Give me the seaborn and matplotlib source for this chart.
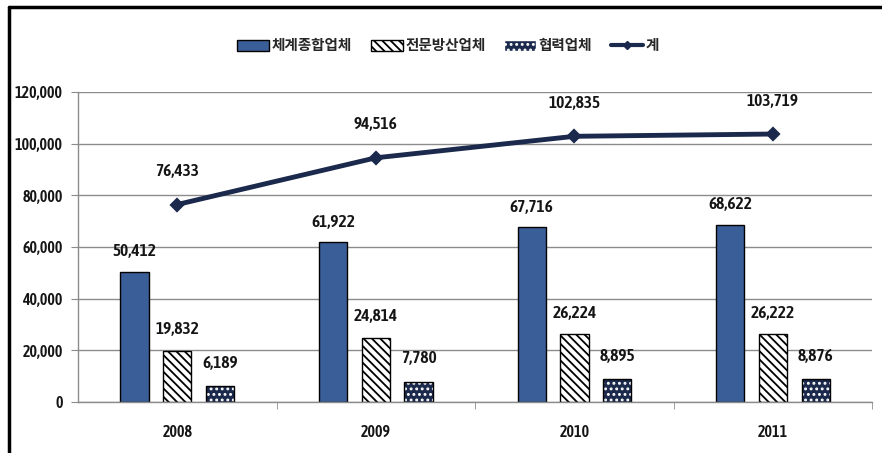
import matplotlib
matplotlib.use('Agg')
import matplotlib.pyplot as plt
from matplotlib.patches import Patch, Rectangle
from matplotlib.lines import Line2D
from matplotlib.ticker import FuncFormatter, FixedLocator
import seaborn as sns
import pandas as pd

# data
years = ['2008', '2009', '2010', '2011']
series = ['체계종합업체', '전문방산업체', '협력업체']
system_firms = [50412, 61922, 67716, 68622]
defense_firms = [19832, 24814, 26224, 26222]
partner_firms = [6189, 7780, 8895, 8876]
total = [76433, 94516, 102835, 103719]

blue = '#3a5e98'
navy = '#1b2a4c'
num_font = ['Asap Condensed', 'Barlow Condensed', 'DejaVu Sans']

sns.set_style('white')
plt.rcParams['font.family'] = ['Noto Sans CJK KR', 'DejaVu Sans']
plt.rcParams['hatch.linewidth'] = 1.3

df = pd.DataFrame({
    'year': years * 3,
    'series': [s for s in series for _ in years],
    'value': system_firms + defense_firms + partner_firms,
})

fig = plt.figure(figsize=(8.82, 4.53), dpi=100)
ax = fig.add_axes([0.0884, 0.1126, 0.9006, 0.6844])

sns.barplot(data=df, x='year', y='value', hue='series', hue_order=series,
            width=0.645, gap=0.34, ax=ax, legend=False)

# style the three bar series
for p in ax.containers[0]:
    p.set_facecolor(blue)
    p.set_edgecolor('black')
    p.set_linewidth(1)
for p in ax.containers[1]:
    p.set_facecolor('white')
    p.set_edgecolor('black')
    p.set_hatch('\\\\\\\\')
    p.set_linewidth(1)
for p in ax.containers[2]:
    p.set_facecolor(navy)
    p.set_edgecolor('white')
    p.set_hatch('...')
    p.set_linewidth(0)
    ax.add_patch(Rectangle(p.get_xy(), p.get_width(), p.get_height(),
                           fill=False, edgecolor='black', linewidth=1, zorder=p.get_zorder() + 0.1))

# total line
sns.pointplot(x=years, y=total, color=navy, markers='D', linewidth=3.5,
              markersize=5, ax=ax)

# value labels
for cont, vals, off in zip(ax.containers[:3], [system_firms, defense_firms, partner_firms], [20, 21, 23]):
    for p, v in zip(cont, vals):
        ax.annotate(f'{v:,}', (p.get_x() + p.get_width() / 2, v), xytext=(0, off),
                    textcoords='offset pixels', ha='center', va='center',
                    fontsize=12.5, fontweight='semibold', family=num_font, color='#151515')
for i, v in enumerate(total):
    ax.annotate(f'{v:,}', (i, v), xytext=(0, 33), textcoords='offset pixels',
                ha='center', va='center', fontsize=12.5, fontweight='semibold',
                family=num_font, color='#151515')

ax.set_ylim(0, 120000)
ax.set_xlim(-0.5, 3.5)
ax.set_yticks(range(0, 120001, 20000))
ax.yaxis.set_major_formatter(FuncFormatter(lambda v, _: f'{int(v):,}'))
ax.grid(axis='y', color='#8c8c8c', linewidth=1)
ax.set_axisbelow(True)
ax.set_xlabel('')
ax.set_ylabel('')

for s in ['top', 'right']:
    ax.spines[s].set_visible(False)
for s in ['left', 'bottom']:
    ax.spines[s].set_color('#8c8c8c')
    ax.spines[s].set_linewidth(1)

ax.tick_params(axis='y', length=5, color='#8c8c8c', left=True, pad=6)
ax.tick_params(axis='x', which='major', length=0, pad=16)
ax.xaxis.set_minor_locator(FixedLocator([0.5, 1.5, 2.5, 3.5]))
ax.tick_params(axis='x', which='minor', length=5, color='#8c8c8c', bottom=True)
for lab in ax.get_yticklabels() + ax.get_xticklabels():
    lab.set_family(num_font)
    lab.set_fontweight('semibold')
    lab.set_fontsize(11.5)
    lab.set_color('#151515')

# legend
handles = [
    Patch(facecolor=blue, edgecolor='black', linewidth=1),
    Patch(facecolor='white', edgecolor='black', hatch='\\\\\\\\', linewidth=1),
    Patch(facecolor=navy, edgecolor='white', hatch='...', linewidth=1),
    Line2D([], [], color=navy, linewidth=3, marker='D', markersize=4),
]
leg = fig.legend(handles, series + ['계'], loc='center', bbox_to_anchor=(0.508, 0.9),
                 ncol=4, frameon=False, handlelength=2.2, handleheight=0.75,
                 handletextpad=0.15, columnspacing=1.3,
                 prop={'weight': 'bold', 'size': 10.5})

# outer frame (top and left edges visible in the reference crop)
fig.add_artist(Line2D([9 / 882, 1], [1 - 7 / 453, 1 - 7 / 453], color='black', linewidth=2.5))
fig.add_artist(Line2D([9 / 882, 9 / 882], [0, 1 - 7 / 453], color='black', linewidth=2.5))

fig.savefig('out.png', dpi=100)
